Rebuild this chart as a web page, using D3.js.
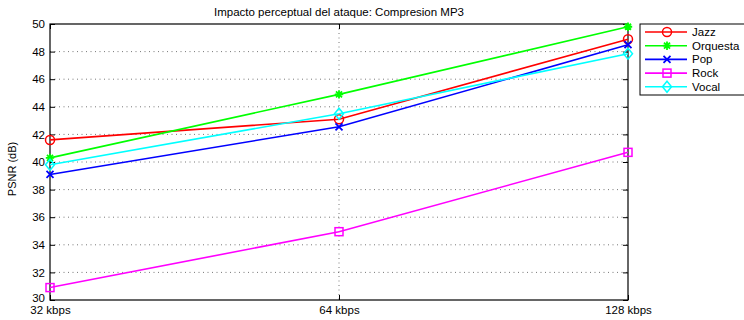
<!DOCTYPE html>
<html><head><meta charset="utf-8">
<script src="https://cdn.jsdelivr.net/npm/d3@7/dist/d3.min.js"></script>
<style>body{margin:0;background:#fff}svg{display:block;font-family:"Liberation Sans",Arial,sans-serif}</style>
</head><body><svg id="c" width="744" height="320"></svg>
<script>
const categories = ["32 kbps", "64 kbps", "128 kbps"];
const seriesNames = ["Jazz", "Orquesta", "Pop", "Rock", "Vocal"];
const jazz = [41.6, 43.1, 48.9];
const orquesta = [40.3, 44.9, 49.8];
const pop = [39.1, 42.55, 48.5];
const rock = [30.9, 34.95, 40.7];
const vocal = [39.8, 43.5, 47.85];
const yTicks = [30, 32, 34, 36, 38, 40, 42, 44, 46, 48, 50];
const title = "Impacto perceptual del ataque: Compresion MP3";
const yLabel = "PSNR (dB)";

const colors = ["#ff0000", "#00ff00", "#0000ff", "#ff00ff", "#00ffff"];
const markers = ["circle", "asterisk", "x", "square", "diamond"];
const seriesVals = [jazz, orquesta, pop, rock, vocal];

const svg = d3.select("#c");
const m = {l: 50, r: 628, t: 24, b: 300};
const x = d3.scalePoint().domain(categories).range([m.l, m.r]);
const y = d3.scaleLinear().domain([30, 50]).range([m.b, m.t]);

// grid
const g = svg.append("g");
g.selectAll(".hg").data(yTicks.slice(1, -1)).enter().append("line")
  .attr("x1", m.l).attr("x2", m.r).attr("y1", d => y(d)).attr("y2", d => y(d))
  .attr("stroke", "#555").attr("stroke-width", 0.8).attr("stroke-dasharray", "1,3.5");
g.selectAll(".vg").data(categories.slice(1, -1)).enter().append("line")
  .attr("x1", d => x(d)).attr("x2", d => x(d)).attr("y1", m.t).attr("y2", m.b)
  .attr("stroke", "#555").attr("stroke-width", 0.8).attr("stroke-dasharray", "1,3.5");

// axes
const yAxisL = d3.axisLeft(y).tickValues(yTicks).tickSize(-5).tickPadding(5).tickFormat(d3.format("d"));
const yAxisR = d3.axisRight(y).tickValues(yTicks).tickSize(-5).tickFormat("");
const xAxisB = d3.axisBottom(x).tickSize(-5).tickPadding(11);
const xAxisT = d3.axisTop(x).tickSize(-5).tickFormat("");
function style(sel){ sel.select(".domain").remove(); sel.selectAll("line").attr("stroke","#000"); sel.selectAll("text").attr("fill","#000").attr("font-size", 11.5).attr("font-family", '"Liberation Sans",Arial,sans-serif'); }
const yl = svg.append("g").attr("transform", `translate(${m.l},0)`).call(yAxisL).call(style);
yl.selectAll("text").filter(d => d === 30).attr("dy", "0.1em");
svg.append("g").attr("transform", `translate(${m.r},0)`).call(yAxisR).call(style);
const xb = svg.append("g").attr("transform", `translate(0,${m.b})`).call(xAxisB).call(style);
xb.selectAll("text").attr("dy", "0.3em");
svg.append("g").attr("transform", `translate(0,${m.t})`).call(xAxisT).call(style);
svg.append("rect").attr("x", m.l).attr("y", m.t).attr("width", m.r - m.l).attr("height", m.b - m.t)
  .attr("fill", "none").attr("stroke", "#000").attr("stroke-width", 1.2);

function drawMarker(sel, type, color, cx, cy) {
  const s = 4.2;
  if (type === "circle") sel.append("circle").attr("cx", cx).attr("cy", cy).attr("r", 4.5).attr("fill", "none").attr("stroke", color).attr("stroke-width", 1.5);
  else if (type === "square") sel.append("rect").attr("x", cx - 4).attr("y", cy - 4).attr("width", 8).attr("height", 8).attr("fill", "none").attr("stroke", color).attr("stroke-width", 1.5);
  else if (type === "diamond") sel.append("path").attr("d", `M${cx},${cy-5.5}L${cx+4.5},${cy}L${cx},${cy+5.5}L${cx-4.5},${cy}Z`).attr("fill", "none").attr("stroke", color).attr("stroke-width", 1.5);
  else if (type === "x") sel.append("path").attr("d", `M${cx-3.5},${cy-3.5}L${cx+3.5},${cy+3.5}M${cx-3.5},${cy+3.5}L${cx+3.5},${cy-3.5}`).attr("stroke", color).attr("stroke-width", 1.8);
  else if (type === "asterisk") sel.append("path").attr("d", `M${cx-s},${cy}L${cx+s},${cy}M${cx},${cy-s}L${cx},${cy+s}M${cx-3},${cy-3}L${cx+3},${cy+3}M${cx-3},${cy+3}L${cx+3},${cy-3}`).attr("stroke", color).attr("stroke-width", 1.8);
}

const line = d3.line().x((d, i) => x(categories[i])).y(d => y(d));
seriesVals.forEach((vals, k) => {
  const sg = svg.append("g");
  sg.append("path").attr("d", line(vals)).attr("fill", "none").attr("stroke", colors[k]).attr("stroke-width", 1.6);
  vals.forEach((v, i) => drawMarker(sg, markers[k], colors[k], x(categories[i]), y(v)));
});

// legend
const lg = svg.append("g");
lg.append("rect").attr("x", 640).attr("y", 24).attr("width", 120).attr("height", 71).attr("fill", "#fff").attr("stroke", "#000").attr("stroke-width", 1);
seriesNames.forEach((n, k) => {
  const ly = 32 + k * 13.7;
  lg.append("line").attr("x1", 645).attr("x2", 687).attr("y1", ly).attr("y2", ly).attr("stroke", colors[k]).attr("stroke-width", 1.6);
  drawMarker(lg, markers[k], colors[k], 667, ly);
  lg.append("text").attr("x", 692).attr("y", ly).attr("dy", "0.35em").attr("font-size", 11.5).text(n);
});

svg.append("text").attr("x", 339).attr("y", 16).attr("text-anchor", "middle").attr("font-size", 11.5).text(title);
svg.append("text").attr("transform", `translate(16,169) rotate(-90)`).attr("text-anchor", "middle").attr("font-size", 11).text(yLabel);
</script></body></html>
